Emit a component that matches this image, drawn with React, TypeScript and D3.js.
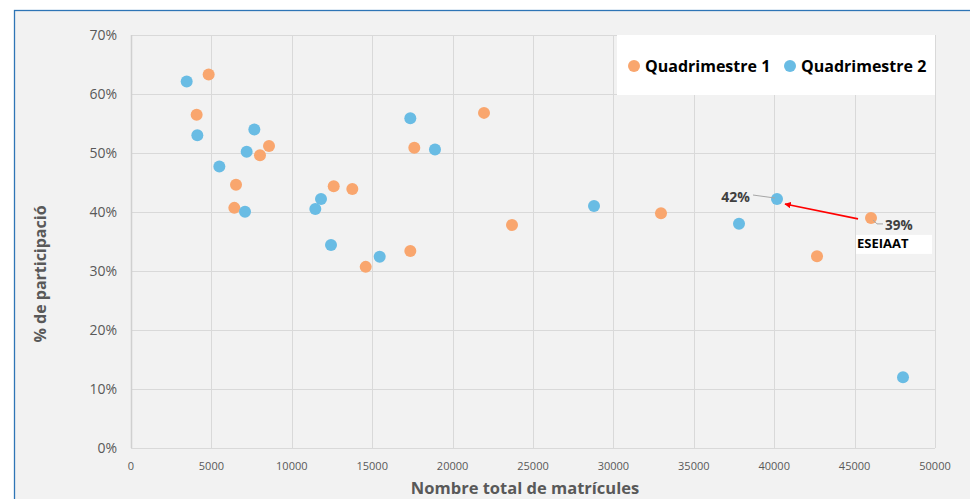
import React, { useEffect, useRef } from 'react';
import * as d3 from 'd3';

// Quadrimestre 1 (orange)
const q1Matricules = [4830, 4083, 8582, 8022, 6530, 6425, 17618, 21953, 12606, 13763, 17370, 14596, 23694, 32960, 42662, 46020];
const q1Participacio = [0.633, 0.565, 0.512, 0.496, 0.446, 0.407, 0.509, 0.568, 0.4435, 0.439, 0.334, 0.307, 0.378, 0.398, 0.325, 0.39];

// Quadrimestre 2 (blue)
const q2Matricules = [3463, 4125, 7670, 7193, 5494, 7090, 17370, 18905, 11816, 11463, 12438, 15466, 28794, 37811, 40174, 48010];
const q2Participacio = [0.621, 0.53, 0.54, 0.502, 0.477, 0.4005, 0.559, 0.506, 0.422, 0.405, 0.344, 0.324, 0.41, 0.38, 0.422, 0.12];

const xTicks = [0, 5000, 10000, 15000, 20000, 25000, 30000, 35000, 40000, 45000, 50000];
const yTicks = [0, 0.1, 0.2, 0.3, 0.4, 0.5, 0.6, 0.7];

const seriesNames = ['Quadrimestre 1', 'Quadrimestre 2'];
const seriesColors = ['#F9A66E', '#69BCE4'];

const WIDTH = 970;
const HEIGHT = 499;
const FONT = '"Open Sans", "Liberation Sans", sans-serif';

function App() {
  const svgRef = useRef<SVGSVGElement>(null);

  useEffect(() => {
    if (!svgRef.current) return;
    const svg = d3.select(svgRef.current);
    svg.selectAll('*').remove();

    const margin = { top: 35, right: 35, bottom: 51, left: 131 };
    const innerWidth = WIDTH - margin.left - margin.right;
    const innerHeight = HEIGHT - margin.top - margin.bottom;

    // chart frame
    svg.append('rect')
      .attr('x', 14.5).attr('y', 10.5)
      .attr('width', WIDTH).attr('height', HEIGHT)
      .attr('fill', '#f2f2f2')
      .attr('stroke', '#2e75b6')
      .attr('stroke-width', 1.3);

    const xScale = d3.scaleLinear().domain([0, 50000]).range([0, innerWidth]);
    const yScale = d3.scaleLinear().domain([0, 0.7]).range([innerHeight, 0]);

    const g = svg.append('g').attr('transform', `translate(${margin.left},${margin.top})`);

    // gridlines
    g.selectAll('.vgrid').data(xTicks).enter().append('line')
      .attr('x1', d => Math.round(xScale(d)) + 0.5).attr('x2', d => Math.round(xScale(d)) + 0.5)
      .attr('y1', 0).attr('y2', innerHeight)
      .attr('stroke', '#d9d9d9').attr('stroke-width', 1);
    g.selectAll('.hgrid').data(yTicks).enter().append('line')
      .attr('x1', 0).attr('x2', innerWidth)
      .attr('y1', d => Math.round(yScale(d)) + 0.5).attr('y2', d => Math.round(yScale(d)) + 0.5)
      .attr('stroke', '#d9d9d9').attr('stroke-width', 1);
    g.append('line')
      .attr('x1', 0.5).attr('x2', 0.5).attr('y1', 0).attr('y2', innerHeight)
      .attr('stroke', '#d0d0d0').attr('stroke-width', 1.5);

    // tick labels
    g.selectAll('.xtick').data(xTicks).enter().append('text')
      .attr('x', d => xScale(d)).attr('y', innerHeight + 22)
      .attr('text-anchor', 'middle')
      .style('font-family', FONT).style('font-size', '11px').style('fill', '#595959')
      .text(d => String(d));
    g.selectAll('.ytick').data(yTicks).enter().append('text')
      .attr('x', -14).attr('y', d => yScale(d) + 5)
      .attr('text-anchor', 'end')
      .style('font-family', FONT).style('font-size', '14px').style('fill', '#595959')
      .text(d => d3.format('.0%')(d));

    // axis titles
    svg.append('text')
      .attr('x', 525).attr('y', 494)
      .attr('text-anchor', 'middle')
      .style('font-family', FONT).style('font-size', '16.5px').style('font-weight', 'bold').style('fill', '#595959')
      .text('Nombre total de matrícules');
    svg.append('text')
      .attr('transform', `translate(46,274) rotate(-90)`)
      .attr('text-anchor', 'middle')
      .style('font-family', FONT).style('font-size', '16px').style('font-weight', 'bold').style('fill', '#595959')
      .text('% de participació');

    // points
    const series = [
      q1Matricules.map((x, i) => ({ x, y: q1Participacio[i] })),
      q2Matricules.map((x, i) => ({ x, y: q2Participacio[i] })),
    ];
    series.forEach((pts, si) => {
      g.selectAll(`.dot${si}`).data(pts).enter().append('circle')
        .attr('cx', d => xScale(d.x)).attr('cy', d => yScale(d.y))
        .attr('r', 6)
        .attr('fill', seriesColors[si]);
    });

    // ESEIAAT annotation
    const a1 = series[0][15];
    const a2 = series[1][14];
    const p1 = { x: xScale(a1.x), y: yScale(a1.y) };
    const p2 = { x: xScale(a2.x), y: yScale(a2.y) };

    svg.append('defs').append('marker')
      .attr('id', 'arrow').attr('viewBox', '0 0 10 10')
      .attr('refX', 9).attr('refY', 5)
      .attr('markerWidth', 4).attr('markerHeight', 4)
      .attr('orient', 'auto')
      .append('path').attr('d', 'M0,0L10,5L0,10z').attr('fill', '#ff0000');

    g.append('line')
      .attr('x1', p1.x - 13).attr('y1', p1.y + 1)
      .attr('x2', p2.x + 8).attr('y2', p2.y + 5)
      .attr('stroke', '#ff0000').attr('stroke-width', 1.6)
      .attr('marker-end', 'url(#arrow)');

    // leader lines
    g.append('path')
      .attr('d', `M${p2.x - 2},${p2.y - 1}L${p2.x - 24},${p2.y - 4}`)
      .attr('fill', 'none').attr('stroke', '#a6a6a6').attr('stroke-width', 1);
    g.append('path')
      .attr('d', `M${p1.x + 2},${p1.y + 2}L${p1.x + 6},${p1.y + 6}L${p1.x + 12},${p1.y + 6}`)
      .attr('fill', 'none').attr('stroke', '#a6a6a6').attr('stroke-width', 1);

    g.append('text')
      .attr('x', p2.x - 27).attr('y', p2.y + 3)
      .attr('text-anchor', 'end')
      .style('font-family', FONT).style('font-size', '14px').style('font-weight', 'bold').style('fill', '#404040')
      .text(d3.format('.0%')(a2.y));
    g.append('text')
      .attr('x', p1.x + 14).attr('y', p1.y + 12)
      .style('font-family', FONT).style('font-size', '13.5px').style('font-weight', 'bold').style('fill', '#404040')
      .text(d3.format('.0%')(a1.y));

    g.append('rect')
      .attr('x', p1.x - 15).attr('y', p1.y + 17)
      .attr('width', 76).attr('height', 19)
      .attr('fill', '#ffffff');
    g.append('text')
      .attr('x', p1.x - 14).attr('y', p1.y + 30)
      .style('font-family', FONT).style('font-size', '13px').style('font-weight', 'bold').style('fill', '#000000')
      .text('ESEIAAT');

    // legend
    const legend = svg.append('g');
    legend.append('rect')
      .attr('x', 617).attr('y', 35)
      .attr('width', 318).attr('height', 60)
      .attr('fill', '#ffffff');
    const legendX = [634, 790];
    seriesNames.forEach((name, i) => {
      legend.append('circle')
        .attr('cx', legendX[i]).attr('cy', 66).attr('r', 6)
        .attr('fill', seriesColors[i]);
      legend.append('text')
        .attr('x', legendX[i] + 11).attr('y', 72)
        .style('font-family', FONT).style('font-size', '16px').style('font-weight', 'bold').style('fill', '#000000')
        .text(name);
    });
  }, []);

  return (
    <div style={{ position: 'absolute', left: 0, top: 0, width: WIDTH, height: HEIGHT, overflow: 'hidden', background: '#ffffff' }}>
      <svg ref={svgRef} width={WIDTH} height={HEIGHT}></svg>
    </div>
  );
}

export default App;
